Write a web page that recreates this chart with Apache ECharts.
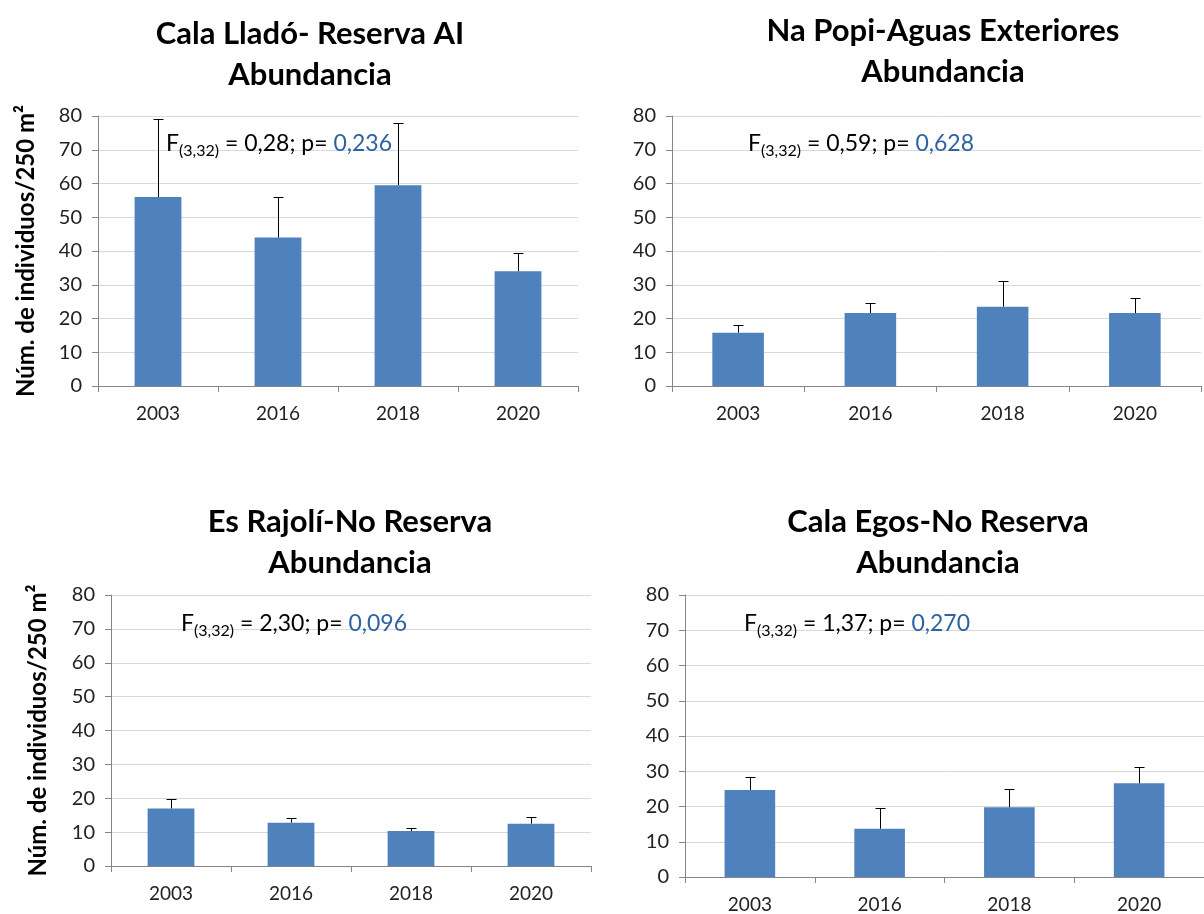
<!DOCTYPE html>
<html>
<head>
<meta charset="utf-8">
<script src="https://cdn.jsdelivr.net/npm/echarts@6/dist/echarts.min.js"></script>
<style>
  html, body { margin: 0; padding: 0; background: #fff; }
  #chart { width: 1204px; height: 914px; }
</style>
</head>
<body>
<div id="chart"></div>
<script>
// datos
const years = ['2003', '2016', '2018', '2020'];

const lladoMean = [56, 44, 59.5, 34];
const lladoTop = [79, 56, 78, 39.5];

const popiMean = [15.8, 21.6, 23.5, 21.6];
const popiTop = [18.2, 24.6, 31, 26.1];

const rajoliMean = [17, 12.8, 10.3, 12.5];
const rajoliTop = [19.7, 14.2, 11.3, 14.5];

const egosMean = [24.7, 13.7, 19.8, 26.6];
const egosTop = [28.4, 19.5, 25, 31.1];

const titles = [
  'Cala Lladó- Reserva AI\nAbundancia',
  'Na Popi-Aguas Exteriores\nAbundancia',
  'Es Rajolí-No Reserva\nAbundancia',
  'Cala Egos-No Reserva\nAbundancia'
];
const fValues = ['0,28', '0,59', '2,30', '1,37'];
const pValues = ['0,236', '0,628', '0,096', '0,270'];

const yName = 'Núm. de individuos/250 m²';

const panels = [
  { mean: lladoMean, top: lladoTop },
  { mean: popiMean, top: popiTop },
  { mean: rajoliMean, top: rajoliTop },
  { mean: egosMean, top: egosTop }
];

const font = 'Lato, "Open Sans", sans-serif';

// posiciones de cada panel
const grids = [
  { left: 98, top: 116, width: 480, height: 270 },
  { left: 672, top: 116, width: 529, height: 270 },
  { left: 111, top: 595, width: 480, height: 271 },
  { left: 685, top: 595, width: 528, height: 284 }
];
const titlePos = [
  { x: 305, y: 8 },
  { x: 938, y: 5 },
  { x: 345, y: 496 },
  { x: 933, y: 496 }
];
const statPos = [
  { x: 166, y: 147 },
  { x: 748, y: 147 },
  { x: 181, y: 627 },
  { x: 744, y: 627 }
];
const nameGaps = [60, 0, 61, 0];

function errRender(params, api) {
  const x = api.value(0);
  const lo = api.coord([x, api.value(1)]);
  const hi = api.coord([x, api.value(2)]);
  const cx = Math.round(lo[0]) + 0.5;
  const ty = Math.round(hi[1]) + 0.5;
  return {
    type: 'group',
    children: [
      { type: 'line', shape: { x1: cx, y1: lo[1], x2: cx, y2: ty }, style: { stroke: '#000', lineWidth: 1 } },
      { type: 'line', shape: { x1: cx - 5, y1: ty, x2: cx + 5, y2: ty }, style: { stroke: '#000', lineWidth: 1 } }
    ]
  };
}

const chart = echarts.init(document.getElementById('chart'));

const option = {
  backgroundColor: '#fff',
  animation: false,
  title: titles.map((t, i) => ({
    text: t,
    left: titlePos[i].x,
    top: titlePos[i].y,
    textAlign: 'center',
    textStyle: { fontFamily: font, fontWeight: 'bold', fontSize: 31, lineHeight: 41, color: '#000' }
  })),
  grid: grids,
  xAxis: grids.map((g, i) => ({
    type: 'category',
    gridIndex: i,
    data: years,
    axisLine: { lineStyle: { color: '#868686' } },
    axisTick: { show: true, length: 6, lineStyle: { color: '#868686' } },
    axisLabel: { margin: 18, fontFamily: font, fontSize: 19, color: '#222' }
  })),
  yAxis: grids.map((g, i) => ({
    type: 'value',
    gridIndex: i,
    min: 0,
    max: 80,
    interval: 10,
    name: nameGaps[i] ? yName : '',
    nameLocation: 'middle',
    nameGap: nameGaps[i],
    nameTextStyle: { fontFamily: font, fontWeight: 'bold', fontSize: 24, color: '#000' },
    axisLine: { show: true, lineStyle: { color: '#868686' } },
    axisTick: { show: true, length: 6, lineStyle: { color: '#868686' } },
    axisLabel: { margin: 16, fontFamily: font, fontSize: 20, color: '#222' },
    splitLine: { lineStyle: { color: '#d9d9d9' } }
  })),
  graphic: statPos.map((p, i) => ({
    type: 'text',
    left: p.x,
    top: p.y - 15,
    z: 100,
    style: {
      text: '{a|F}{s|(3,32)}{a| = ' + fValues[i] + '; p= }{b|' + pValues[i] + '}',
      rich: {
        a: { fontFamily: font, fontSize: 23, fill: '#000' },
        s: { fontFamily: font, fontSize: 16, fill: '#000', padding: [14, 0, 0, 0] },
        b: { fontFamily: font, fontSize: 23, fill: '#2f62a3' }
      }
    }
  })),
  series: []
};

panels.forEach((p, i) => {
  option.series.push({
    type: 'bar',
    xAxisIndex: i,
    yAxisIndex: i,
    data: p.mean,
    barWidth: '39%',
    itemStyle: { color: '#4f81bd' }
  });
  option.series.push({
    type: 'custom',
    xAxisIndex: i,
    yAxisIndex: i,
    renderItem: errRender,
    data: p.mean.map((m, k) => [k, m, p.top[k]]),
    z: 10
  });
});

chart.setOption(option);
</script>
</body>
</html>
